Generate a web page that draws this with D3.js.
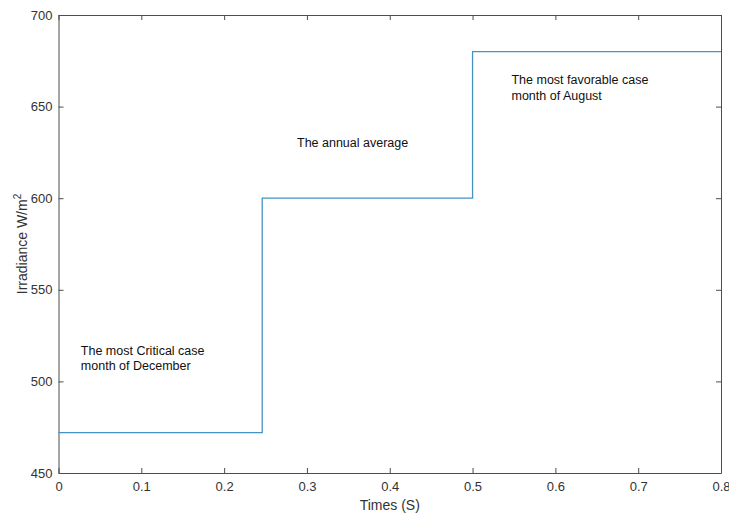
<!DOCTYPE html>
<html>
<head>
<meta charset="utf-8">
<script src="https://cdn.jsdelivr.net/npm/d3@7"></script>
<style>
  body { margin: 0; background: #fff; }
  svg { font-family: "Liberation Sans", Arial, Helvetica, sans-serif; }
</style>
</head>
<body>
<svg></svg>
<script>
// irradiance steps (time in s, W/m2)
const times = [0, 0.246, 0.5, 0.8]
const irradiance = [472, 600, 680, 680]

const xTicks = [0, 0.1, 0.2, 0.3, 0.4, 0.5, 0.6, 0.7, 0.8]
const yTicks = [450, 500, 550, 600, 650, 700]

const labels = [
    ["The most Critical case", "month of December"],
    ["The annual average"],
    ["The most favorable case", "month of August"]
]
const labelX = [0.027, 0.288, 0.547]
const labelY = [514.5, 628, 662.3]

const width = 729
const height = 516
const margin = { top: 15, right: 8, bottom: 43, left: 58.5 }

const svg = d3.select('svg')
    .attr("width", width)
    .attr("height", height)

const x = d3.scaleLinear()
    .domain([0, 0.8])
    .range([margin.left, width - margin.right])

const y = d3.scaleLinear()
    .domain([450, 700])
    .range([height - margin.bottom, margin.top])

const axisColor = "#4d4d4d"

// assen, ticks naar binnen zoals in matlab
const xAxis = svg.append("g")
    .attr("transform", `translate(0,${y(450)})`)
    .call(d3.axisBottom(x).tickValues(xTicks).tickSizeInner(-5).tickSizeOuter(0).tickPadding(9)
        .tickFormat(d => d === 0 ? "0" : d3.format(".1f")(d)))

const xTop = svg.append("g")
    .attr("transform", `translate(0,${y(700)})`)
    .call(d3.axisTop(x).tickValues(xTicks).tickSizeInner(-5).tickSizeOuter(0).tickFormat(""))

const yAxis = svg.append("g")
    .attr("transform", `translate(${x(0)},0)`)
    .call(d3.axisLeft(y).tickValues(yTicks).tickSizeInner(-5).tickSizeOuter(0).tickPadding(6))

const yRight = svg.append("g")
    .attr("transform", `translate(${x(0.8)},0)`)
    .call(d3.axisRight(y).tickValues(yTicks).tickSizeInner(-5).tickSizeOuter(0).tickFormat(""))

;[xAxis, xTop, yAxis, yRight].forEach(g => {
    g.select(".domain").attr("stroke", axisColor)
    g.selectAll(".tick line").attr("stroke", axisColor)
    g.selectAll(".tick text")
        .attr("fill", "#333")
        .style("font-size", "13px")
        .style("font-family", "inherit")
})

// de lijn zelf
const lijn = d3.line()
    .x((d, i) => x(times[i]))
    .y(d => y(d))
    .curve(d3.curveStepAfter)

svg.append("path")
    .datum(irradiance)
    .attr("fill", "none")
    .attr("stroke", "#4592c4")
    .attr("stroke-width", 1.3)
    .attr("d", lijn)

// annotaties
labels.forEach((regels, i) => {
    const t = svg.append("text")
        .attr("x", x(labelX[i]))
        .attr("y", y(labelY[i]))
        .attr("fill", "#111")
        .style("font-size", "12.5px")
    regels.forEach((regel, j) => {
        t.append("tspan")
            .attr("x", x(labelX[i]))
            .attr("dy", j === 0 ? 0 : 15.5)
            .text(regel)
    })
})

// as titels
svg.append("text")
    .attr("x", (x(0) + x(0.8)) / 2)
    .attr("y", 510)
    .attr("text-anchor", "middle")
    .attr("fill", "#333")
    .style("font-size", "14px")
    .text("Times (S)")

const yLabel = svg.append("text")
    .attr("transform", `translate(27,${(y(450) + y(700)) / 2}) rotate(-90)`)
    .attr("text-anchor", "middle")
    .attr("fill", "#333")
    .style("font-size", "14px")
yLabel.append("tspan").text("Irradiance W/m")
yLabel.append("tspan").attr("dy", -6).style("font-size", "10px").text("2")
</script>
</body>
</html>
